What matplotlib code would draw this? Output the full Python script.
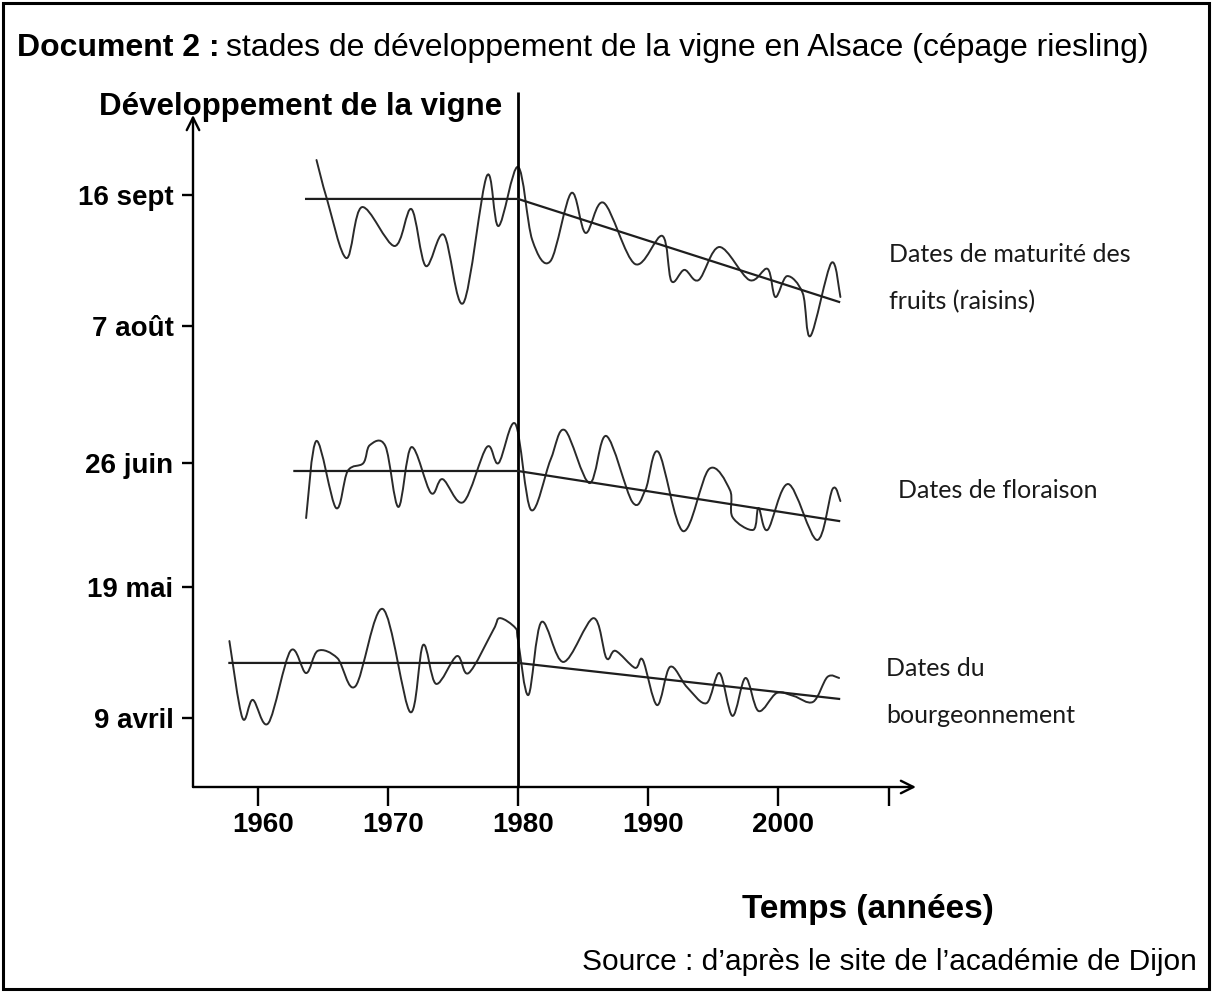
import numpy as np
import matplotlib
matplotlib.use("Agg")
import matplotlib.pyplot as plt
from matplotlib.path import Path
from matplotlib.patches import PathPatch, Rectangle
from matplotlib import font_manager as fm
import matplotlib.transforms as mtransforms

# ---------------- data (years, day-of-year) ----------------
mat_years = [1964.5, 1965.3, 1966.8, 1968.0, 1970.5, 1971.8, 1972.9, 1974.3, 1975.8, 1977.6,
             1978.5, 1980.0, 1981.1, 1982.5, 1984.1, 1985.2, 1986.6, 1989.0, 1991.1, 1991.8,
             1992.8, 1993.9, 1995.5, 1997.8, 1999.2, 1999.8, 2000.7, 2001.9, 2002.5, 2004.1, 2004.8]
mat_days = [269.7, 257.8, 239.7, 255.3, 243.4, 254.7, 237.3, 246.8, 226.0, 264.8,
            249.5, 267.6, 245.2, 238.8, 259.6, 247.4, 256.6, 237.9, 246.5, 232.7,
            236.1, 233.0, 243.1, 233.0, 236.4, 227.8, 234.2, 229.0, 215.9, 238.2, 227.8]

flo_years = [1963.7, 1964.5, 1966.0, 1966.9, 1968.1, 1968.6, 1969.8, 1970.8, 1971.8, 1973.3,
             1974.2, 1975.8, 1977.6, 1978.5, 1979.8, 1981.0, 1982.5, 1983.6, 1985.5, 1986.8,
             1988.8, 1989.8, 1990.8, 1992.7, 1994.7, 1996.3, 1996.5, 1998.1, 1998.5, 1999.2,
             2000.8, 2003.0, 2004.2, 2004.8]
flo_days = [160.2, 183.8, 163.3, 174.6, 177.0, 182.5, 182.2, 163.6, 181.9, 167.9,
            172.1, 165.1, 181.9, 177.0, 189.0, 162.7, 178.0, 187.1, 170.9, 185.3,
            165.1, 168.8, 180.4, 156.2, 175.2, 168.8, 160.5, 156.6, 163.3, 156.6,
            170.6, 153.5, 169.1, 165.4]

bou_years = [1957.8, 1958.8, 1959.6, 1960.8, 1962.5, 1963.7, 1964.6, 1966.1, 1967.5, 1969.6,
             1971.7, 1972.7, 1973.7, 1975.3, 1976.2, 1978.1, 1978.6, 1979.8, 1980.0, 1980.8,
             1981.8, 1983.5, 1985.8, 1986.8, 1987.5, 1989.0, 1989.6, 1990.7, 1991.7, 1993.0,
             1994.5, 1995.5, 1996.5, 1997.5, 1998.5, 1999.9, 2001.2, 2002.7, 2003.8, 2004.7]
bou_days = [122.6, 99.1, 104.6, 97.5, 119.6, 112.8, 119.6, 117.4, 108.8, 132.4,
            100.9, 121.4, 109.5, 118.0, 112.8, 126.0, 129.6, 126.6, 122.9, 106.1,
            128.4, 116.2, 129.6, 117.4, 119.6, 114.4, 116.8, 103.0, 114.7, 108.5,
            103.6, 112.8, 99.7, 111.3, 101.2, 106.7, 105.8, 104.0, 111.6, 111.3]

# trend lines: (start year, 1980, end year) and days
mat_trend_years = [1963.7, 1980.0, 2004.7]
mat_trend_days = [257.8, 257.8, 226.3]
flo_trend_years = [1962.8, 1980.0, 2004.7]
flo_trend_days = [174.6, 174.6, 159.3]
bou_trend_years = [1957.8, 1980.0, 2004.7]
bou_trend_days = [115.9, 115.9, 104.9]

ytick_days = [259, 219, 177, 139, 99]
ytick_labels = ["16 sept", "7 août", "26 juin", "19 mai", "9 avril"]
xtick_years = [1960, 1970, 1980, 1990, 2000, 2008.5]
xtick_labels = ["1960", "1970", "1980", "1990", "2000", ""]
break_year = 1980

# ---------------- fonts ----------------
names = {f.name for f in fm.fontManager.ttflist}
narrow = "Liberation Sans Narrow" if "Liberation Sans Narrow" in names else "Liberation Sans"
arial = "Liberation Sans"
calib = "Lato"

W, H = 1212, 992
fig = plt.figure(figsize=(W / 100, H / 100), dpi=100)

def fx(px):
    return px / W

def fy(py):
    return 1 - py / H

# axes geometry in pixels
ax_left, ax_right, ax_bottom, ax_top = 193, 920, 787, 90
ax = fig.add_axes([fx(ax_left), fy(ax_bottom), fx(ax_right - ax_left), (ax_bottom - ax_top) / H])
x0 = 1955.0
x1 = 1960 + (ax_right - 258) / 13.0
ybot = 259 - (ax_bottom - 195) / 3.27
ytop = 259 + (195 - ax_top) / 3.27
ax.set_xlim(x0, x1)
ax.set_ylim(ybot, ytop)
for s in ax.spines.values():
    s.set_visible(False)
ax.patch.set_alpha(0)

# axes with arrows
ax.annotate("", xy=(x0, 259 + (195 - 115) / 3.27), xytext=(x0, ybot),
            arrowprops=dict(arrowstyle="->,head_length=0.9,head_width=0.45", lw=1.7, color="black",
                            shrinkA=0, shrinkB=0), annotation_clip=False)
ax.annotate("", xy=(1960 + (916 - 258) / 13.0, ybot), xytext=(x0, ybot),
            arrowprops=dict(arrowstyle="->,head_length=0.9,head_width=0.45", lw=1.7, color="black",
                            shrinkA=0, shrinkB=0), annotation_clip=False)

# vertical 1980 line
ax.plot([break_year, break_year], [ybot, 259 + (195 - 92) / 3.27], color="black", lw=2.0,
        solid_capstyle="butt", clip_on=False)

ax.set_yticks(ytick_days)
ax.set_yticklabels(ytick_labels)
ax.set_xticks(xtick_years)
ax.set_xticklabels(xtick_labels)
ax.tick_params(axis="y", direction="out", length=8, width=1.7, pad=6, labelsize=20)
ax.tick_params(axis="x", direction="out", length=14, width=1.7, pad=4, labelsize=20)
for lab in ax.get_yticklabels() + ax.get_xticklabels():
    lab.set_fontfamily(narrow)
    lab.set_fontweight("bold")
off = mtransforms.ScaledTranslation(5 / 100, 0, fig.dpi_scale_trans)
for lab in ax.get_xticklabels():
    lab.set_transform(lab.get_transform() + off)


def smooth_path(xs, ys):
    pts = np.column_stack([xs, ys]).astype(float)
    n = len(pts)
    verts = [pts[0]]
    codes = [Path.MOVETO]
    for i in range(n - 1):
        p0 = pts[i - 1] if i > 0 else pts[i]
        p1 = pts[i]
        p2 = pts[i + 1]
        p3 = pts[i + 2] if i + 2 < n else pts[i + 1]
        c1 = p1 + (p2 - p0) / 6.0
        c2 = p2 - (p3 - p1) / 6.0
        verts += [c1, c2, p2]
        codes += [Path.CURVE4] * 3
    return Path(verts, codes)


for xs, ys in [(mat_years, mat_days), (flo_years, flo_days), (bou_years, bou_days)]:
    ax.add_patch(PathPatch(smooth_path(xs, ys), fill=False, edgecolor="#2a2a2a", lw=1.4,
                           capstyle="round", joinstyle="round"))

for xs, ys in [(mat_trend_years, mat_trend_days), (flo_trend_years, flo_trend_days),
               (bou_trend_years, bou_trend_days)]:
    ax.plot(xs, ys, color="#1e1e1e", lw=1.6)

# ---------------- texts ----------------
t1 = fig.text(fx(17), fy(56), "Document 2 :", fontsize=23, fontweight="bold", family=arial,
              va="baseline", ha="left")
fig.canvas.draw()
bb = t1.get_window_extent()
fig.text(bb.x1 / W + 6 / W, fy(56), "stades de développement de la vigne en Alsace (cépage riesling)",
         fontsize=23, family=arial, va="baseline", ha="left")

fig.text(fx(99), fy(115), "Développement de la vigne", fontsize=22.5, fontweight="bold",
         family=narrow, va="baseline", ha="left")

fig.text(fx(742), fy(918), "Temps (années)", fontsize=24, fontweight="bold", family=narrow,
         va="baseline", ha="left")

fig.text(fx(1197), fy(970), "Source : d\u2019après le site de l\u2019académie de Dijon", fontsize=21.5,
         family=arial, va="baseline", ha="right")

lab_kw = dict(fontsize=18, family=calib, va="baseline", ha="left", color="#1a1a1a")
fig.text(fx(889), fy(262), "Dates de maturité des", **lab_kw)
fig.text(fx(889), fy(309), "fruits (raisins)", **lab_kw)
fig.text(fx(898), fy(498), "Dates de floraison", **lab_kw)
fig.text(fx(886), fy(676), "Dates du", **lab_kw)
fig.text(fx(886), fy(723), "bourgeonnement", **lab_kw)

# outer frame
fig.patches.append(Rectangle((fx(3), fy(989)), fx(1206), (986) / H, transform=fig.transFigure,
                             fill=False, edgecolor="black", lw=2.2))

fig.savefig("out.png", dpi=100)
